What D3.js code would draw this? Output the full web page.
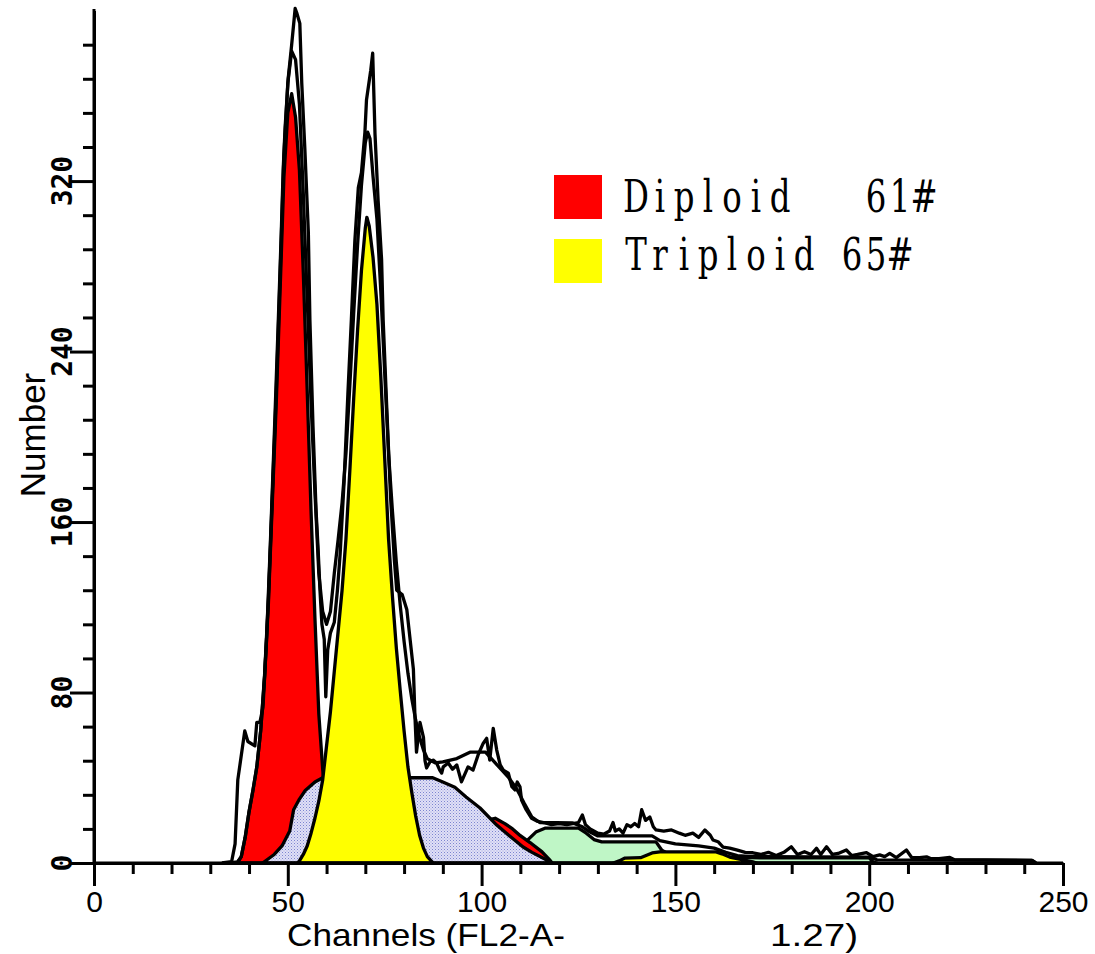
<!DOCTYPE html>
<html><head><meta charset="utf-8">
<script src="https://cdn.jsdelivr.net/npm/d3@7"></script>
<style>body{margin:0;background:#fff}</style>
</head><body>
<svg id="c" width="1095" height="954"></svg>
<script>
// ---- data ----
const xMajorTicks = [0, 50, 100, 150, 200, 250];
const yMajorTicks = [0, 80, 160, 240, 320];
const xTitleParts = ["Channels (FL2-A-", "1.27)"];
const yTitle = "Number";
const legendLabels = ["Diploid   61#", "Triploid 65#"];
const legendColors = ["#ff0000", "#ffff00"];

// model components [channel, count]
const redG1 = [[37,0],[38,3],[39,12],[40,24],[41,34],[42,45],[43,62],[44,87],[45,122],[46,169],[47,215],[48,268],[49,322],[50,352],[51,361],[52,350],[53,325],[54,277],[55,222],[56,165],[57,115],[58,70],[59,44],[60,26],[61,14],[62,7],[63,3],[64,1],[65,0]];
const redG2 = [[92,0],[95,8],[98,15],[101,20],[103.5,21],[106,18.5],[108,16],[110,12.8],[112.5,9.6],[115.6,5.2],[117.5,1.6],[118.2,0]];
const blueS = [[43.5,0],[45,2],[46.5,4],[48.5,8],[50.5,15],[51.5,25],[53,30],[54.5,34],[57,38],[59,40],[81.5,40],[87.4,40],[90,38],[93.1,35.5],[96,31],[99.6,25.8],[103.9,17.8],[107,13],[110.7,7.5],[113,5],[116.8,1.4],[118,0]];
const greenG = [[106,0],[109,5],[111.7,10.5],[114,14.5],[116.5,16.4],[125,16.4],[127,14],[129,11],[131,9.9],[145,9.9],[146.5,6],[148,4.5],[160,3],[172,2.4],[200,2.4],[201,0.5],[202,0]];
const yellowG1 = [[52.5,0],[53,1],[54,4],[55,8],[56,14],[57,21],[58,29],[59,39],[60,55],[61,71],[62,90],[63,109],[64,128],[65,152],[66,184],[67,218],[68,250],[69,278],[70,298],[70.4,303],[71,299],[72,284],[73,262],[74,228],[75,190],[76,152],[77,125],[78,101],[79,81],[80,62],[81,45],[82,33],[83,22],[84,13],[85,7],[86,3],[87,1],[87.5,0]];
const yellowG2 = [[134,0],[135.5,1],[137,2.3],[141,2.5],[144,4.7],[146,5.2],[160.5,5.2],[162,4.3],[164,2.8],[170,0.5],[171,0]];

// model sum (fit) trace
const fitTrace = [[35,0],[37,0.5],[38,3],[39,12],[40,24],[41,34],[42,45],[43,62],[44,88],[45,124],[46,172],[47,220],[48,275],[49,332],[50,366],[51,381],[52,377],[53,356],[54,314],[55,265],[56,216],[57,174],[58,136],[59,118],[60,112],[61,118],[62,136],[63,152],[64,169],[65,192],[66,224],[67,258],[68,290],[69,318],[70,338],[70.6,343],[71.2,340],[72,322],[73,302],[74,268],[75,230],[76,192],[77,165],[78,141],[79,121],[80,104],[81,89],[82,77],[83,67],[84,59],[85,53],[86,49],[88,47],[90,47.5],[93.6,49],[97,52],[99,52],[101,52],[103,48],[105,44],[107,40],[109,35],[111,28],[113,21.5],[115,19],[123.5,18.8],[126,17],[128,14.5],[130,12.7],[144,12.7],[146,10.5],[150,9],[156,8],[160,7],[163,5],[166,3.5],[170,3],[200,2.8],[202,1.5],[242,1.2],[243,0]];

// raw data trace
const rawTrace = [[33,0],[35.5,0.6],[36.4,9],[37.1,39],[38.9,62],[39.7,57],[41.5,55],[42,66],[42.8,66],[43.6,73],[44.5,104],[45.5,150],[46.5,200],[47.5,252],[48.3,295],[48.8,325],[49.3,345],[50.1,368],[51,384],[51.9,401],[52.3,399],[53.1,394],[53.6,366],[54.4,335],[55.3,296],[55.7,255],[56.5,205],[57.3,165],[57.8,148],[58.3,128],[58.8,112],[59.4,105],[59.8,78],[60.3,100],[61,108],[62,113],[62.8,128],[63.5,145],[64.5,178],[65.5,220],[66.4,255],[67.3,292],[68.2,317],[69,324],[69.9,343],[70.3,358],[71.4,372],[71.9,380],[72.5,342],[73.3,311],[74.2,283],[74.6,255],[75.5,215],[76.5,172],[77.5,142],[78.1,128],[79.5,126],[80.7,119],[82.4,91],[82.8,69],[83.2,52],[84.1,66],[85,59],[85.4,48],[85.8,44.6],[86.7,47.5],[87.5,48.3],[88.4,46.9],[89.2,43.6],[89.7,42.2],[90.1,45.1],[91.4,46.9],[92.5,44],[93.6,46],[94.8,38.1],[96.5,45.1],[97.8,43.6],[99.1,50.7],[100.4,56.1],[101.3,58.5],[102.1,48.3],[103,63.2],[103.9,53],[104.8,46],[105.6,43.6],[106.9,42.2],[107.8,35.8],[108.6,34.3],[109.2,38],[109.9,35.8],[110.3,29.6],[111.5,25],[112.9,21],[114.5,19.5],[116,19],[118,18],[120,18.5],[122,18],[123.5,18.5],[125,19],[126,22.5],[126.8,18],[128,16],[130,14],[131.5,13.5],[133,15],[133.9,19],[134.5,15],[135.5,16],[136.5,14],[137.5,18],[138.5,17],[139.5,18.5],[140.5,17],[141.3,25],[142.3,20],[143.4,21.6],[144.3,17],[145,15.5],[147,15],[149,15.5],[151,14],[152.5,13],[154.5,14],[156,12],[157.6,15.5],[159,13],[159.7,10.8],[161,10],[162.3,7.5],[164,7],[166,6],[168,5],[170,4.8],[172,4],[174,5],[176,3.5],[178,5],[179.9,7.6],[181.5,4],[183.3,5.3],[185,4],[186.4,6.9],[187.5,4],[189,7.6],[190.5,4],[192,4.5],[194.1,6.1],[195.5,3.5],[197,4],[199.3,4.9],[201,3],[202.7,3.8],[204,3],[205.3,4.5],[207,2.5],[209.6,6.1],[211,2.5],[213,2.5],[214.8,2.9],[216,2],[218,2],[220.8,2.6],[222,1.5],[230,1.5],[242,1.2],[243,0]];

// ---- drawing ----
const svg = d3.select("#c");
const x = d3.scaleLinear([0, 250], [94, 1063]);
const y = d3.scaleLinear([0, 400], [863, 10.6]);

const defs = svg.append("defs");
const pat = defs.append("pattern").attr("id","hatch").attr("patternUnits","userSpaceOnUse")
  .attr("width",3).attr("height",3);
pat.append("rect").attr("width",3).attr("height",3).attr("fill","#e0e0f6");
pat.append("rect").attr("x",0).attr("y",0).attr("width",1).attr("height",1).attr("fill","#7c84d0");
pat.append("rect").attr("x",1.5).attr("y",1.5).attr("width",1).attr("height",1).attr("fill","#a0a6de");

const area = d3.area().x(d => x(d[0])).y0(y(0)).y1(d => y(d[1]));
const line = d3.line().x(d => x(d[0])).y(d => y(d[1]));
const SW = 3.3;

const comps = [
  [greenG, "#bff6c6"],
  [redG2, "#ff0000"],
  [redG1, "#ff0000"],
  [blueS, "url(#hatch)"],
  [yellowG1, "#ffff00"],
  [yellowG2, "#ffff00"]
];
comps.forEach(([d, f]) => {
  svg.append("path").datum(d).attr("d", area).attr("fill", f)
    .attr("stroke", "#000").attr("stroke-width", SW).attr("stroke-linejoin", "round");
});

[fitTrace, rawTrace].forEach(d => {
  svg.append("path").datum(d).attr("d", line).attr("fill", "none")
    .attr("stroke", "#000").attr("stroke-width", SW).attr("stroke-linejoin", "round");
});

// axes
const xMinor = d3.range(0, 251, 10).filter(v => v % 50 !== 0);
const yMinor = d3.range(0, 401, 16).filter(v => v % 80 !== 0);

const gx = svg.append("g").attr("transform", `translate(0,${y(0)})`);
gx.call(d3.axisBottom(x).tickValues(xMinor).tickSize(11).tickSizeOuter(0).tickFormat(""));
gx.call(g => g.select(".domain").remove());
const gx2 = svg.append("g").attr("transform", `translate(0,${y(0)})`);
gx2.call(d3.axisBottom(x).tickValues(xMajorTicks).tickSize(23).tickSizeOuter(0).tickFormat(d => String(d)));
[gx, gx2].forEach(g => {
  g.selectAll("line").attr("stroke", "#000").attr("stroke-width", 3);
  g.selectAll(".domain").attr("stroke", "#000").attr("stroke-width", 3);
});
gx2.selectAll("text").attr("y", 0).attr("dy", null)
  .attr("transform", "translate(0,49)")
  .attr("font-family", "Liberation Sans, Arial, sans-serif").attr("font-size", 30).attr("fill", "#000");

const gy = svg.append("g").attr("transform", `translate(${x(0)},0)`);
gy.call(d3.axisLeft(y).tickValues(yMinor).tickSize(11).tickSizeOuter(0).tickFormat(""));
gy.call(g => g.select(".domain").remove());
const gy2 = svg.append("g").attr("transform", `translate(${x(0)},0)`);
gy2.call(d3.axisLeft(y).tickValues(yMajorTicks).tickSize(24).tickSizeOuter(0).tickFormat(""));
[gy, gy2].forEach(g => {
  g.selectAll("line").attr("stroke", "#000").attr("stroke-width", 3);
  g.selectAll(".domain").attr("stroke", "#000").attr("stroke-width", 3);
});
svg.append("line").attr("x1", x(0)).attr("x2", x(0)).attr("y1", y(400)).attr("y2", y(0))
  .attr("stroke", "#000").attr("stroke-width", 3).attr("stroke-linecap", "square");
svg.append("line").attr("x1", x(0)).attr("x2", x(250)).attr("y1", y(0)).attr("y2", y(0))
  .attr("stroke", "#000").attr("stroke-width", 3);

// y tick labels rotated
svg.append("g").selectAll("text").data(yMajorTicks).join("text")
  .attr("transform", d => `translate(72,${y(d)}) rotate(-90)`)
  .attr("text-anchor", "middle")
  .attr("font-family", "DejaVu Sans Mono, monospace").attr("font-weight", "bold")
  .attr("font-size", 28).attr("fill", "#000")
  .text(d => String(d));

// axis titles
svg.append("text").attr("x", 287).attr("y", 946)
  .attr("font-family", "Liberation Sans, Arial, sans-serif").attr("font-size", 32)
  .attr("textLength", 278).attr("lengthAdjust", "spacingAndGlyphs").text(xTitleParts[0]);
svg.append("text").attr("x", 770).attr("y", 946)
  .attr("font-family", "Liberation Sans, Arial, sans-serif").attr("font-size", 32)
  .attr("textLength", 88).attr("lengthAdjust", "spacingAndGlyphs").text(xTitleParts[1]);
svg.append("text").attr("transform", "translate(45,435) rotate(-90)")
  .attr("text-anchor", "middle")
  .attr("font-family", "Liberation Sans, Arial, sans-serif").attr("font-size", 35)
  .text(yTitle);

// legend
const lg = svg.append("g");
const legendBase = [212, 270];
legendLabels.forEach((lab, i) => {
  const top = 175 + i * 64;
  lg.append("rect").attr("x", 554).attr("y", top).attr("width", 48).attr("height", 44)
    .attr("fill", legendColors[i]);
  lab.split("").forEach((ch, k) => {
    if (ch === " ") return;
    lg.append("text")
      .attr("transform", `translate(${636 + 24 * k},${legendBase[i]}) scale(0.72,1)`)
      .attr("text-anchor", "middle")
      .attr("font-family", "DejaVu Serif, serif")
      .attr("font-size", 45).attr("fill", "#000")
      .text(ch);
  });
});
</script>
</body></html>
